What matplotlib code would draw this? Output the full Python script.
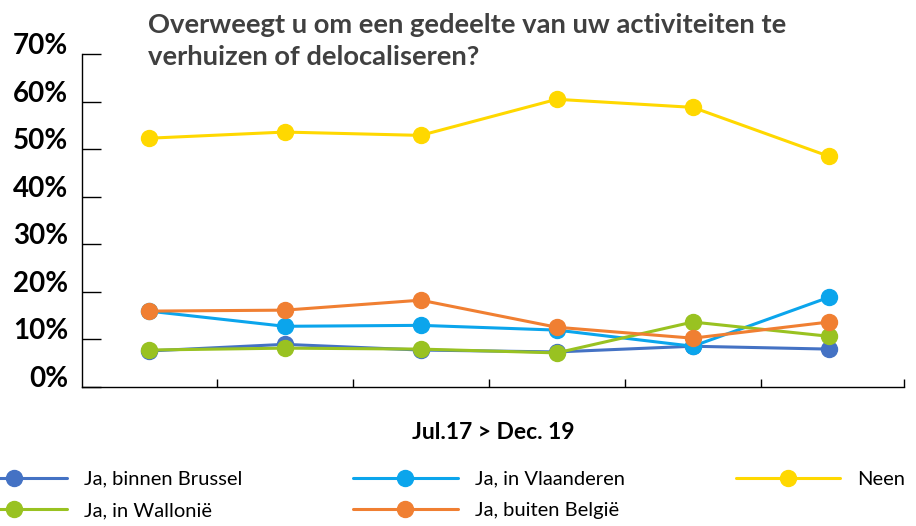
import matplotlib.pyplot as plt
from matplotlib.ticker import MultipleLocator, FuncFormatter

plt.rcParams['font.family'] = ['Lato', 'DejaVu Sans']

# Survey waves (no labels shown on the axis)
waves = ['Jul.17', 'Dec.17', 'Jul.18', 'Dec.18', 'Jul.19', 'Dec.19']

brussel = [7.5, 8.9, 7.7, 7.3, 8.5, 7.9]
vlaanderen = [15.9, 12.7, 12.9, 11.9, 8.5, 18.8]
neen = [52.3, 53.6, 52.9, 60.5, 58.8, 48.5]
wallonie = [7.7, 8.1, 7.9, 7.1, 13.6, 10.6]
buiten = [15.9, 16.1, 18.2, 12.5, 10.2, 13.6]

series = [
    ('Ja, binnen Brussel', brussel, '#4472C4'),
    ('Ja, in Vlaanderen', vlaanderen, '#0BA5EC'),
    ('Neen', neen, '#FFD800'),
    ('Ja, in Wallonië', wallonie, '#99C221'),
    ('Ja, buiten België', buiten, '#F07F32'),
]

fig = plt.figure(figsize=(9.16, 5.26), dpi=100)
ax = fig.add_axes([0.0895, 0.265, 0.897, 0.632])

x = list(range(len(waves)))
lines = {}
for name, vals, col in series:
    ln, = ax.plot(x, vals, color=col, linewidth=2.2, marker='o',
                  markersize=11.5, label=name, solid_capstyle='round')
    lines[name] = ln

ax.set_xlim(-0.49, len(waves) - 0.45)
ax.set_ylim(0, 70)
ax.spines['top'].set_visible(False)
ax.spines['right'].set_visible(False)
ax.spines['left'].set_linewidth(1.0)
ax.spines['bottom'].set_linewidth(1.0)

ax.yaxis.set_major_locator(MultipleLocator(10))
ax.yaxis.set_major_formatter(FuncFormatter(lambda v, p: f'{int(v)}%'))
ax.tick_params(axis='y', direction='in', length=14, width=1.0, pad=10,
               labelsize=20, labelcolor='black')
for lab in ax.get_yticklabels():
    lab.set_fontweight('bold')
    lab.set_va('baseline')

ax.set_xticks([i + 0.5 for i in x[:-1]] + [len(waves) - 0.45])
ax.set_xticklabels([])
ax.tick_params(axis='x', direction='in', length=6, width=1.0)

ax.set_xlabel('Jul.17 > Dec. 19', fontsize=16.5, fontweight='bold', labelpad=22)

fig.text(0.1616, 0.975, 'Overweegt u om een gedeelte van uw activiteiten te\nverhuizen of delocaliseren?',
         ha='left', va='top', fontsize=19.7, fontweight='bold', color='#404040',
         linespacing=1.38)

order = ['Ja, binnen Brussel', 'Ja, in Wallonië', 'Ja, in Vlaanderen',
         'Ja, buiten België', 'Neen']
fig.legend([lines[n] for n in order], order, loc='upper left',
           bbox_to_anchor=(-0.0415, 0.105), ncol=3, frameon=False,
           fontsize=14.5, handlelength=5.2, handletextpad=0.85,
           columnspacing=5.5, borderpad=0, labelspacing=0.72, borderaxespad=0)

fig.savefig('out.png', dpi=100)
